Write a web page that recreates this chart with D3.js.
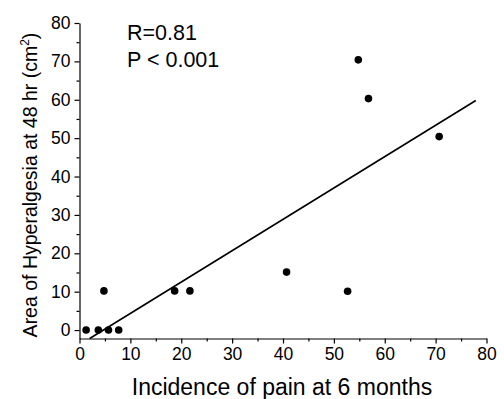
<!DOCTYPE html>
<html>
<head>
<meta charset="utf-8">
<script src="https://cdn.jsdelivr.net/npm/d3@7"></script>
<style>
  body { margin: 0; background: #fff; }
  text { font-family: Arial, "Liberation Sans", sans-serif; fill: #000; }
</style>
</head>
<body>
<div id="app"></div>
<script>
// incidence of pain at 6 months (x) vs area of hyperalgesia at 48 hr (y)
const pain_x = [1.3, 3.7, 5.7, 7.7, 4.8, 18.7, 21.7, 40.7, 52.7, 54.8, 56.8, 70.7]
const area_y = [0, 0, 0, 0, 10.2, 10.2, 10.2, 15.1, 10.1, 70.4, 60.3, 50.4]

// fitted line, two ends
const fit_x = [2.0, 77.9]
const fit_y = [-2.2, 59.8]

const x_ticks = [0, 10, 20, 30, 40, 50, 60, 70, 80]
const x_minor = [5, 15, 25, 35, 45, 55, 65, 75]
const y_ticks = [0, 10, 20, 30, 40, 50, 60, 70, 80]
const y_minor = [5, 15, 25, 35, 45, 55, 65, 75]

const stats = ['R=0.81', 'P < 0.001']

const width = 504
const height = 399

const svg = d3.create('svg')
  .attr('width', width)
  .attr('height', height)

const x_scale = d3.scaleLinear().domain([0, 80]).range([79.5, 486.5])
const y_scale = d3.scaleLinear().domain([-2.2, 80]).range([338.5, 23])

const axis_y0 = y_scale(-2.2)
const axis_x0 = x_scale(0)

// x axis
const gx = svg.append('g').attr('transform', `translate(0,${axis_y0})`)
gx.call(d3.axisBottom(x_scale).tickValues(x_ticks).tickSize(5).tickPadding(4).tickSizeOuter(0))
gx.append('g').call(d3.axisBottom(x_scale).tickValues(x_minor).tickSize(3).tickFormat('')).select('.domain').remove()

// y axis
const gy = svg.append('g').attr('transform', `translate(${axis_x0},0)`)
gy.call(d3.axisLeft(y_scale).tickValues(y_ticks).tickSize(5).tickPadding(4).tickSizeOuter(0))
gy.append('g').call(d3.axisLeft(y_scale).tickValues(y_minor).tickSize(3).tickFormat('')).select('.domain').remove()

svg.selectAll('.tick text')
  .attr('font-size', '17.5px')
  .attr('font-family', 'Arial, "Liberation Sans", sans-serif')
svg.selectAll('.domain, .tick line').attr('stroke', '#000').attr('stroke-width', 1.2)

// fitted line
const line = d3.line()
  .x((d) => x_scale(d[0]))
  .y((d) => y_scale(d[1]))
svg.append('path')
  .datum(d3.zip(fit_x, fit_y))
  .attr('d', line)
  .attr('fill', 'none')
  .attr('stroke', '#000')
  .attr('stroke-width', 1.6)

// points
svg.append('g')
  .selectAll('circle')
  .data(d3.zip(pain_x, area_y))
  .join('circle')
  .attr('cx', (d) => x_scale(d[0]))
  .attr('cy', (d) => y_scale(d[1]))
  .attr('r', 3.8)
  .attr('fill', '#000')

// stats text
svg.append('g')
  .selectAll('text')
  .data(stats)
  .join('text')
  .attr('x', 127)
  .attr('y', (d, i) => 40 + i * 26.7)
  .attr('font-size', '21.5px')
  .text((d) => d)

// axis titles
svg.append('text')
  .attr('x', (x_scale.range()[0] + x_scale.range()[1]) / 2 - 1)
  .attr('y', 394.5)
  .attr('text-anchor', 'middle')
  .attr('font-size', '23px')
  .text('Incidence of pain at 6 months')

const ylab = svg.append('text')
  .attr('transform', 'translate(36.5,185) rotate(-90)')
  .attr('text-anchor', 'middle')
  .attr('font-size', '19.5px')
ylab.append('tspan').text('Area of Hyperalgesia at 48 hr (cm')
ylab.append('tspan').attr('font-size', '12px').attr('dy', -8).text('2')
ylab.append('tspan').attr('dy', 8).text(')')

d3.select('#app').append(() => svg.node())
</script>
</body>
</html>
